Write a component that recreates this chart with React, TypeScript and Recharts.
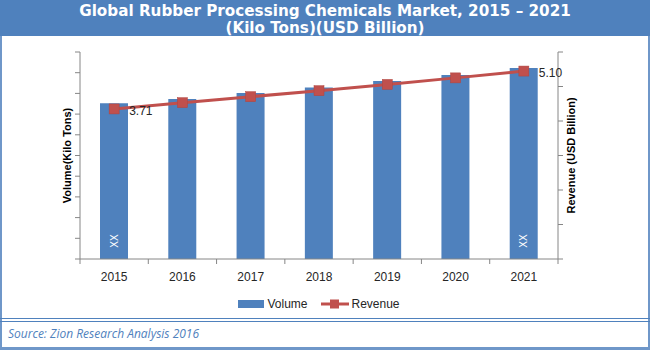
import React from "react";
import {
  ComposedChart,
  Bar,
  Line,
  XAxis,
  YAxis,
  Legend,
  LabelList,
} from "recharts";

const years = ["2015", "2016", "2017", "2018", "2019", "2020", "2021"];
const volume = [7.52, 7.73, 8.02, 8.28, 8.6, 8.89, 9.23];
const revenue = [3.71, 3.94, 4.16, 4.38, 4.61, 4.85, 5.1];
const barTags = ["XX", "", "", "", "", "", "XX"];
const revenueTags = ["3.71", "", "", "", "", "", "5.10"];

const data = years.map((year, i) => ({
  year,
  volume: volume[i],
  revenue: revenue[i],
  tag: barTags[i],
  revTag: revenueTags[i],
}));

const BLUE = "#4F81BD";
const RED = "#C0504D";
const AXIS = "#868686";
const FONT = "'Liberation Sans', Arial, sans-serif";

const volDomain = [0, 10];
const volTicks = Array.from({ length: 11 }, (_, i) => i);
const revDomain = [-1.8, 5.8];
const revTicks = Array.from(
  { length: 7 },
  (_, i) => revDomain[0] + (i * (revDomain[1] - revDomain[0])) / 6
);

function YearTick(props: any) {
  const { x, y, payload, index, width } = props;
  const step = width / years.length;
  return (
    <g>
      <line x1={x - step / 2} y1={y - 8} x2={x - step / 2} y2={y - 3} stroke={AXIS} />
      {index === years.length - 1 && (
        <line x1={x + step / 2} y1={y - 8} x2={x + step / 2} y2={y - 3} stroke={AXIS} />
      )}
      <text x={x} y={y + 14} textAnchor="middle" fontSize={12} fill="#262626" fontFamily={FONT}>
        {payload.value}
      </text>
    </g>
  );
}

function BarTag(props: any) {
  const { x, y, width, height, value } = props;
  if (!value) return null;
  const cx = x + width / 2;
  const cy = y + height - 18;
  return (
    <text
      x={cx}
      y={cy}
      transform={`rotate(-90 ${cx} ${cy})`}
      textAnchor="middle"
      dominantBaseline="central"
      fontSize={10}
      fill="#fff"
      fontFamily={FONT}
    >
      {value}
    </text>
  );
}

function RevTag(props: any) {
  const { x, y, value } = props;
  if (!value) return null;
  return (
    <text x={x + 15} y={y + 6} fontSize={12} fill="#262626" fontFamily={FONT}>
      {value}
    </text>
  );
}

function SquareDot(props: any) {
  const { cx, cy } = props;
  return <rect x={cx - 5} y={cy - 5} width={10} height={10} fill={RED} stroke="#B0443F" strokeWidth={0.5} />;
}

function LegendBox() {
  return (
    <div style={{ height: 16, display: "flex", justifyContent: "center", alignItems: "center", fontFamily: FONT, fontSize: 12, color: "#262626" }}>
      <span style={{ display: "inline-block", width: 26, height: 8, background: BLUE, marginRight: 3 }} />
      <span style={{ marginRight: 14 }}>Volume</span>
      <svg width={28} height={10} style={{ marginRight: 2 }}>
        <line x1={0} y1={5} x2={28} y2={5} stroke={RED} strokeWidth={3} />
        <rect x={9} y={0.5} width={9} height={9} fill={RED} />
      </svg>
      <span>Revenue</span>
    </div>
  );
}

const noText = () => "";

export default function App() {
  return (
    <div style={{ position: "absolute", left: 0, top: 0, width: 650, height: 350, background: "#fff", overflow: "hidden" }}>
      <div
        style={{
          position: "absolute",
          left: 0,
          top: 0,
          width: 650,
          height: 36,
          background: BLUE,
          color: "#fff",
          fontFamily: "'DejaVu Sans', sans-serif",
          fontWeight: "bold",
          fontSize: 15.2,
          lineHeight: "17px",
          textAlign: "center",
          paddingTop: 3,
          boxSizing: "border-box",
          whiteSpace: "nowrap",
        }}
      >
        Global Rubber Processing Chemicals Market, 2015 – 2021
        <br />
        (Kilo Tons)(USD Billion)
      </div>
      <div style={{ position: "absolute", left: 0, top: 36, width: 2, height: 314, background: "#6F97C9" }} />
      <div style={{ position: "absolute", left: 648, top: 36, width: 2, height: 314, background: "#6F97C9" }} />
      <div style={{ position: "absolute", left: 0, top: 318, width: 650, height: 1, background: BLUE }} />
      <div style={{ position: "absolute", left: 0, top: 321, width: 650, height: 1, background: BLUE }} />
      <div style={{ position: "absolute", left: 0, top: 347, width: 650, height: 3, background: "#6F97C9" }} />
      <div
        style={{
          position: "absolute",
          left: 8,
          top: 325,
          fontFamily: "'Open Sans', sans-serif",
          fontStyle: "italic",
          fontSize: 12,
          color: BLUE,
        }}
      >
        Source: Zion Research Analysis 2016
      </div>
      <div style={{ position: "absolute", left: 0, top: 0 }}>
        <ComposedChart
          width={650}
          height={350}
          data={data}
          margin={{ top: 52, right: 62, bottom: 45, left: 50 }}
          barCategoryGap={0}
        >
          <XAxis
            dataKey="year"
            height={30}
            axisLine={{ stroke: AXIS }}
            tickLine={false}
            tick={<YearTick />}
            interval={0}
          />
          <YAxis
            yAxisId="vol"
            width={30}
            domain={volDomain}
            ticks={volTicks}
            tickFormatter={noText}
            tickSize={5}
            axisLine={{ stroke: AXIS }}
            tickLine={{ stroke: AXIS }}
            label={{
              value: "Volume(Kilo Tons)",
              angle: -90,
              position: "insideLeft",
              offset: 17,
              style: { textAnchor: "middle", fontSize: 11, fontWeight: "bold", fill: "#000", fontFamily: FONT },
            }}
          />
          <YAxis
            yAxisId="rev"
            orientation="right"
            width={30}
            domain={revDomain}
            ticks={revTicks}
            tickFormatter={noText}
            tickSize={5}
            axisLine={{ stroke: AXIS }}
            tickLine={{ stroke: AXIS }}
            label={{
              value: "Revenue (USD Billion)",
              angle: -90,
              position: "insideRight",
              offset: 17,
              style: { textAnchor: "middle", fontSize: 11, fontWeight: "bold", fill: "#000", fontFamily: FONT },
            }}
          />
          <Legend verticalAlign="bottom" wrapperStyle={{ bottom: 38 }} content={<LegendBox />} />
          <Bar yAxisId="vol" dataKey="volume" name="Volume" fill={BLUE} barSize={28} isAnimationActive={false}>
            <LabelList dataKey="tag" content={<BarTag />} />
          </Bar>
          <Line
            yAxisId="rev"
            dataKey="revenue"
            name="Revenue"
            stroke={RED}
            strokeWidth={3}
            dot={<SquareDot />}
            activeDot={false}
            isAnimationActive={false}
          >
            <LabelList dataKey="revTag" content={<RevTag />} />
          </Line>
        </ComposedChart>
      </div>
    </div>
  );
}
